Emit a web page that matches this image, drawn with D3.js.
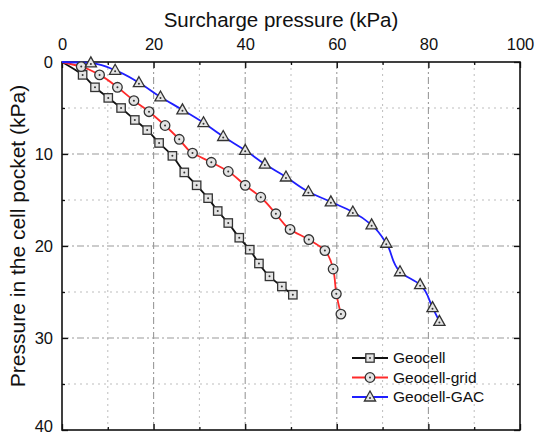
<!DOCTYPE html>
<html>
<head>
<meta charset="utf-8">
<script src="https://cdn.jsdelivr.net/npm/d3@7"></script>
<style>
  body { margin: 0; background: #fff; }
  svg { font-family: "Liberation Sans", Arial, sans-serif; }
  .axis text { font-size: 16.5px; fill: #111; }
  .axis path { display: none; }
  .axis line { stroke: #111; stroke-width: 1.3; }
</style>
</head>
<body>
<div id="plot"></div>
<script>
// series: [surcharge pressure (kPa), pressure in the cell pocket (kPa)]
var geocell = [[0,0],[4.5,1.4],[7.2,2.75],[10.1,3.9],[12.9,5.0],[15.9,6.3],[18.6,7.4],[21.2,8.8],[24.1,10.2],
    [26.7,12.0],[29.4,13.4],[31.9,14.8],[34.0,16.2],[36.3,17.5],[38.7,19.1],[41.0,20.4],[43.0,21.9],[45.3,23.3],[48.0,24.4],[50.4,25.3]];
var geocellGrid = [[0,0],[4.2,0.5],[8.2,1.4],[12.1,2.75],[15.7,4.2],[19.0,5.4],[22.5,6.9],[25.6,8.4],[28.5,9.9],
    [32.6,10.9],[36.3,11.9],[40.0,13.4],[43.4,14.7],[46.7,16.5],[49.8,18.2],[53.9,19.3],[57.4,20.5],[59.2,22.5],[59.9,25.2],[60.9,27.4]];
var geocellGAC = [[0,0],[6.3,0.1],[11.6,0.9],[16.8,2.25],[21.5,3.8],[26.3,5.2],[30.9,6.6],[35.2,8.1],[40.0,9.6],
    [44.3,11.1],[48.9,12.5],[53.8,14.1],[58.7,15.2],[63.5,16.3],[67.6,17.7],[70.8,19.7],[73.8,22.8],[78.2,24.2],[80.9,26.7],[82.4,28.2]];

var seriesNames = ["Geocell", "Geocell-grid", "Geocell-GAC"];
var xTicks = [0, 20, 40, 60, 80, 100];
var xMinor = [10, 30, 50, 70, 90];
var yTicks = [0, 10, 20, 30, 40];
var yMinor = [5, 15, 25, 35];

var series = [
  {name: seriesNames[0], data: geocell, color: "#111111", marker: "square"},
  {name: seriesNames[1], data: geocellGrid, color: "#ff2a2a", marker: "circle"},
  {name: seriesNames[2], data: geocellGAC, color: "#1f1fff", marker: "triangle"}
];

var margin = {t: 62, r: 16, b: 6, l: 62};
var W = 536, H = 436;
var width = W - margin.l - margin.r,
    height = H - margin.t - margin.b;

var svg = d3.select('#plot').append('svg').attr('width', W).attr('height', H);
var g = svg.append('g').attr('transform', 'translate(' + margin.l + ',' + margin.t + ')');

var x = d3.scaleLinear().domain([0, 100]).range([0, width]);
var y = d3.scaleLinear().domain([0, 40]).range([0, height]);

// grid lines: minor dotted, major dash-dot
g.append('g').selectAll('line.vminor').data(xMinor).enter().append('line')
  .attr('x1', function(d){return x(d);}).attr('x2', function(d){return x(d);})
  .attr('y1', 0).attr('y2', height)
  .attr('stroke', '#bdbdbd').attr('stroke-dasharray', '2,4');
g.append('g').selectAll('line.hminor').data(yMinor).enter().append('line')
  .attr('y1', function(d){return y(d);}).attr('y2', function(d){return y(d);})
  .attr('x1', 0).attr('x2', width)
  .attr('stroke', '#bdbdbd').attr('stroke-dasharray', '2,4');
g.append('g').selectAll('line.vmajor').data(xTicks.slice(1, -1)).enter().append('line')
  .attr('x1', function(d){return x(d);}).attr('x2', function(d){return x(d);})
  .attr('y1', 0).attr('y2', height)
  .attr('stroke', '#9a9a9a').attr('stroke-width', 1.1).attr('stroke-dasharray', '7,3,2,3');
g.append('g').selectAll('line.hmajor').data(yTicks.slice(1, -1)).enter().append('line')
  .attr('y1', function(d){return y(d);}).attr('y2', function(d){return y(d);})
  .attr('x1', 0).attr('x2', width)
  .attr('stroke', '#9a9a9a').attr('stroke-width', 1.1).attr('stroke-dasharray', '7,3,2,3');

// axes (ticks pointing inward)
g.append('g').attr('class', 'axis')
  .call(d3.axisTop(x).tickValues(xTicks).tickSizeInner(-6).tickSizeOuter(0).tickPadding(12));
g.append('g').attr('class', 'axis')
  .call(d3.axisTop(x).tickValues(xMinor).tickSizeInner(-3).tickSizeOuter(0).tickFormat(''));
g.append('g').attr('class', 'axis').attr('transform', 'translate(0,' + height + ')')
  .call(d3.axisBottom(x).tickValues(xTicks).tickSizeInner(-6).tickSizeOuter(0).tickFormat(''));
g.append('g').attr('class', 'axis').attr('transform', 'translate(0,' + height + ')')
  .call(d3.axisBottom(x).tickValues(xMinor).tickSizeInner(-3).tickSizeOuter(0).tickFormat(''));
var yAxisG = g.append('g').attr('class', 'axis')
  .call(d3.axisLeft(y).tickValues(yTicks).tickSizeInner(-6).tickSizeOuter(0).tickPadding(9));
// last label sits on the picture's bottom edge, lift it a little so it stays inside
yAxisG.selectAll('.tick text').filter(function(d){return d === 40;}).attr('dy', '0.1em');
g.append('g').attr('class', 'axis')
  .call(d3.axisLeft(y).tickValues(yMinor).tickSizeInner(-3).tickSizeOuter(0).tickFormat(''));
g.append('g').attr('class', 'axis').attr('transform', 'translate(' + width + ',0)')
  .call(d3.axisRight(y).tickValues(yTicks).tickSizeInner(-6).tickSizeOuter(0).tickFormat(''));
g.append('g').attr('class', 'axis').attr('transform', 'translate(' + width + ',0)')
  .call(d3.axisRight(y).tickValues(yMinor).tickSizeInner(-3).tickSizeOuter(0).tickFormat(''));

// frame
g.append('rect').attr('width', width).attr('height', height)
  .attr('fill', 'none').attr('stroke', '#111').attr('stroke-width', 1.6);

// titles
svg.append('text').attr('x', margin.l + width / 2 - 10).attr('y', 27)
  .attr('text-anchor', 'middle').style('font-size', '20.5px').style('fill', '#111')
  .text('Surcharge pressure (kPa)');
svg.append('text').attr('transform', 'translate(25,' + (margin.t + height / 2 - 10) + ') rotate(-90)')
  .attr('text-anchor', 'middle').style('font-size', '21px').style('fill', '#111')
  .text('Pressure in the cell pocket (kPa)');

var line = d3.line()
  .x(function(d){return x(d[0]);})
  .y(function(d){return y(d[1]);})
  .curve(d3.curveMonotoneY);

function drawMarker(sel, type) {
  if (type === 'square') {
    sel.append('rect').attr('x', -4.2).attr('y', -4.2).attr('width', 8.4).attr('height', 8.4)
      .attr('fill', '#e4e4e4').attr('stroke', '#333').attr('stroke-width', 1.3);
  } else if (type === 'circle') {
    sel.append('circle').attr('r', 4.8)
      .attr('fill', '#e4e4e4').attr('stroke', '#333').attr('stroke-width', 1.3);
  } else {
    sel.append('path').attr('d', 'M0,-6L5.6,4L-5.6,4Z')
      .attr('fill', '#e4e4e4').attr('stroke', '#333').attr('stroke-width', 1.3);
  }
  sel.append('circle').attr('r', 1).attr('cy', type === 'triangle' ? 1 : 0).attr('fill', '#333');
}

var plotArea = g.append('g');
series.forEach(function(s){
  plotArea.append('path').datum(s.data)
    .attr('fill', 'none').attr('stroke', s.color).attr('stroke-width', 1.8)
    .attr('d', line);
});
// markers (the origin point is hidden under the axes in the reference)
series.forEach(function(s){
  plotArea.selectAll('.m-' + s.marker).data(s.data.slice(1)).enter().append('g')
    .attr('class', 'm-' + s.marker)
    .attr('transform', function(d){return 'translate(' + x(d[0]) + ',' + y(d[1]) + ')';})
    .each(function(){ drawMarker(d3.select(this), s.marker); });
});

// legend
var legend = svg.append('g').attr('transform', 'translate(352,358)');
series.forEach(function(s, i){
  var row = legend.append('g').attr('transform', 'translate(0,' + (i * 19.5) + ')');
  row.append('line').attr('x1', 0).attr('x2', 36).attr('stroke', s.color).attr('stroke-width', 1.8);
  var m = row.append('g').attr('transform', 'translate(18,0)');
  drawMarker(m, s.marker);
  row.append('text').attr('x', 41).attr('y', 0).attr('dy', '0.35em')
    .style('font-size', '15.5px').style('fill', '#111').text(s.name);
});
</script>
</body>
</html>
